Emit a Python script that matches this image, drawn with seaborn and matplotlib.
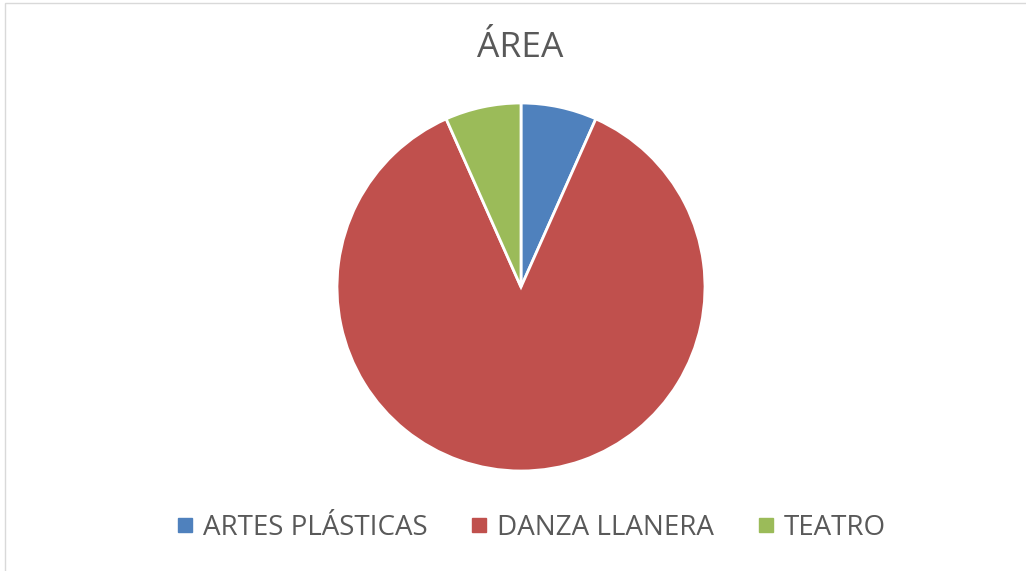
import matplotlib
matplotlib.use("Agg")
import matplotlib.pyplot as plt
import seaborn as sns
from matplotlib.patches import Rectangle
from matplotlib.lines import Line2D

categories = ["ARTES PLÁSTICAS", "DANZA LLANERA", "TEATRO"]
values = [1, 13, 1]
colors = ["#4F81BD", "#C0504D", "#9BBB59"]
title = "ÁREA"

sns.set_theme(style="white")
plt.rcParams['font.family'] = ['Open Sans', 'DejaVu Sans']
text_color = "#595959"

W, H = 1026, 571
fig = plt.figure(figsize=(W / 100, H / 100), dpi=100)
fig.patch.set_facecolor("white")

# chart border (only top and left edges visible)
fig.patches.append(Rectangle((5 / W, -0.1), 1.2, 1.1 - 3 / H, transform=fig.transFigure,
                             fill=False, edgecolor="#D9D9D9", linewidth=1))

cx, cy, r = 521, 287, 184
ax = fig.add_axes([(cx - r) / W, (H - cy - r) / H, 2 * r / W, 2 * r / H])
ax.pie(values, colors=colors, startangle=90, counterclock=False,
       wedgeprops=dict(edgecolor="white", linewidth=2))
ax.set_xlim(-1, 1)
ax.set_ylim(-1, 1)
ax.set_aspect("equal")
ax.axis("off")

fig.text(520 / W, 1 - 48 / H, title, ha="center", va="center",
         fontsize=25.5, color=text_color)

handles = [Line2D([], [], marker="s", linestyle="none", markersize=10,
                  markerfacecolor=c, markeredgecolor=c) for c in colors]
fig.legend(handles, categories, loc="center", bbox_to_anchor=(528 / W, 1 - 528 / H),
           ncol=3, frameon=False, fontsize=20, labelcolor=text_color,
           handletextpad=0.1, columnspacing=1.3, handlelength=1.1)

fig.savefig("out.png", dpi=100)
